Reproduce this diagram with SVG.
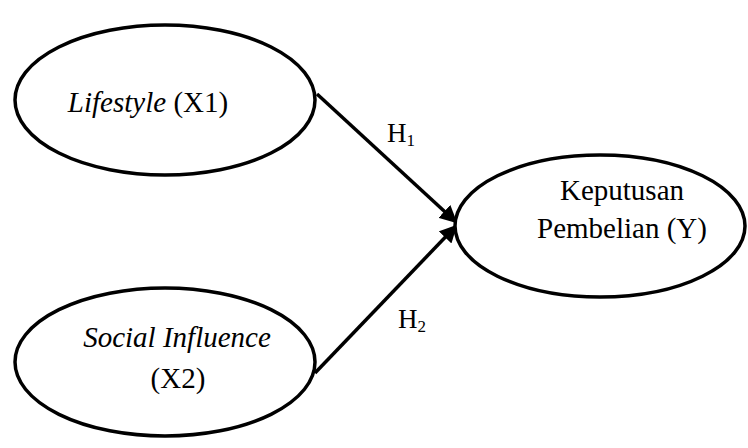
<svg xmlns="http://www.w3.org/2000/svg" width="748" height="448" viewBox="0 0 748 448">
<style>
.node{fill:#fff;stroke:#000;stroke-width:3.5}
.t{font-family:"Liberation Serif","Times New Roman",serif;font-size:29px;fill:#000}
.i{font-style:italic}
.edge{stroke:#000;stroke-width:3.5;fill:none}
.lbl{font-family:"Liberation Serif","Times New Roman",serif;font-size:27px;fill:#000}
</style>
<defs>
<marker id="ah" viewBox="0 0 10 10" refX="9" refY="5" markerWidth="5" markerHeight="5" orient="auto" markerUnits="strokeWidth">
<path d="M0,0 L10,5 L0,10 z" fill="#000"/>
</marker>
</defs>
<g id="connectors">
<line class="edge" x1="317" y1="94" x2="456" y2="222" marker-end="url(#ah)"/>
<line class="edge" x1="315" y1="373" x2="456" y2="226" marker-end="url(#ah)"/>
<text class="lbl" x="387" y="142">H<tspan font-size="17" dy="4">1</tspan></text>
<text class="lbl" x="398" y="328">H<tspan font-size="17" dy="4">2</tspan></text>
</g>
<g id="lifestyle">
<ellipse class="node" cx="165" cy="100" rx="150" ry="75"/>
<text class="t" x="148" y="112" text-anchor="middle"><tspan class="i">Lifestyle</tspan> (X1)</text>
</g>
<g id="social">
<ellipse class="node" cx="165" cy="362" rx="150" ry="74"/>
<text class="t i" x="177" y="347" text-anchor="middle">Social Influence</text>
<text class="t" x="178" y="388" text-anchor="middle">(X2)</text>
</g>
<g id="keputusan">
<ellipse class="node" cx="600" cy="226" rx="145" ry="71"/>
<text class="t" x="622" y="200" text-anchor="middle">Keputusan</text>
<text class="t" x="622" y="238" text-anchor="middle">Pembelian (Y)</text>
</g>
</svg>
